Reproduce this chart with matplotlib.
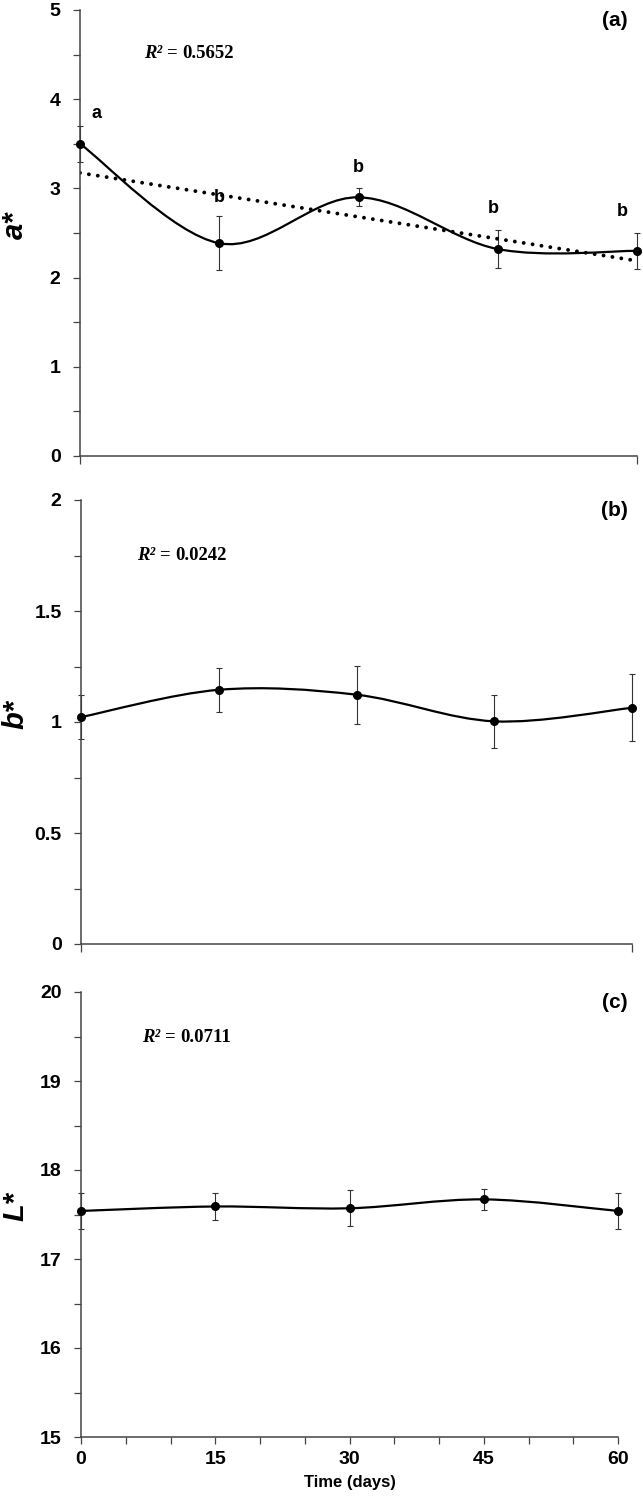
import numpy as np
import matplotlib
matplotlib.use('Agg')
import matplotlib.pyplot as plt
from matplotlib.path import Path
from matplotlib.patches import PathPatch
from matplotlib.ticker import MultipleLocator, FuncFormatter

days = [0, 15, 30, 45, 60]

a_mean = [3.50, 2.385, 2.90, 2.32, 2.30]
a_err = [0.20, 0.30, 0.10, 0.21, 0.20]
a_letters = ['a', 'b', 'b', 'b', 'b']

b_mean = [1.022, 1.145, 1.123, 1.003, 1.064]
b_err = [0.10, 0.10, 0.13, 0.12, 0.15]

L_mean = [17.54, 17.59, 17.57, 17.67, 17.54]
L_err = [0.20, 0.155, 0.20, 0.12, 0.20]

r2_text = ['0.5652', '0.0242', '0.0711']
panel_tags = ['(a)', '(b)', '(c)']
y_titles = ['a*', 'b*', 'L*']

sans = ['Liberation Sans', 'DejaVu Sans']
serif = ['Liberation Serif', 'DejaVu Serif']
axcol = '#444444'


def smooth_line(ax, x, y):
    # excel style smoothed line (bezier segments through the points)
    p = np.column_stack([x, y]).astype(float)
    q = np.vstack([p[0], p, p[-1]])
    verts = [p[0]]
    codes = [Path.MOVETO]
    for i in range(len(p) - 1):
        c1 = q[i + 1] + (q[i + 2] - q[i]) / 6.0
        c2 = q[i + 2] - (q[i + 3] - q[i + 1]) / 6.0
        verts += [c1, c2, q[i + 2]]
        codes += [Path.CURVE4] * 3
    ax.add_patch(PathPatch(Path(verts, codes), fill=False, lw=1.6,
                           edgecolor='black', zorder=3))


fig = plt.figure(figsize=(6.43, 14.97), dpi=100)
W, H = 643.0, 1497.0
# left, right, top, bottom in pixels
boxes = [(80, 637, 10, 456), (81, 632, 500, 944), (81, 618, 992, 1437)]
ylims = [(0, 5), (0, 2), (15, 20)]
ymaj = [1, 0.5, 1]
means = [a_mean, b_mean, L_mean]
errs = [a_err, b_err, L_err]
r2_pos = [(6.9, 4.51), (6.1, 1.75), (6.8, 19.49)]

for k in range(3):
    l, r, t, b = boxes[k]
    ax = fig.add_axes([l / W, (H - b) / H, (r - l) / W, (b - t) / H])
    ax.set_xlim(0, 60)
    ax.set_ylim(*ylims[k])
    for s in ['top', 'right']:
        ax.spines[s].set_visible(False)
    for s in ['left', 'bottom']:
        ax.spines[s].set_color(axcol)
        ax.spines[s].set_linewidth(1.1)
    ax.patch.set_visible(False)

    ax.errorbar(days, means[k], yerr=errs[k], fmt='none', ecolor='#333333',
                elinewidth=0.8, capsize=2.5, capthick=0.8, zorder=2,
                clip_on=False)
    smooth_line(ax, days, means[k])
    ax.plot(days, means[k], 'o', color='black', ms=5.5, zorder=4,
            clip_on=False)

    ax.yaxis.set_major_locator(MultipleLocator(ymaj[k]))
    ax.yaxis.set_minor_locator(MultipleLocator(ymaj[k] / 2))
    ax.yaxis.set_major_formatter(FuncFormatter(lambda v, pos: '%g' % v))
    ax.tick_params(axis='y', which='both', direction='out', length=5,
                   color=axcol, width=0.9)
    ax.tick_params(axis='y', which='major', labelsize=14, pad=9)
    for tl in ax.get_yticklabels():
        tl.set_fontweight('bold')
        tl.set_family(sans)
    if k == 2:
        ax.set_xticks(days)
        ax.set_xticklabels([str(d) for d in days], fontsize=14,
                           fontweight='bold', family=sans)
        ax.xaxis.set_minor_locator(MultipleLocator(5))
        ax.tick_params(axis='x', which='both', direction='out', length=5,
                       color=axcol, width=0.9, pad=5)
        ax.set_xlabel('Time (days)', fontsize=12, fontweight='bold',
                      family=sans, labelpad=5)
    else:
        ax.set_xticks([0, 60])
        ax.set_xticklabels([])
        ax.tick_params(axis='x', direction='out', length=6, color=axcol,
                       width=0.9)

    # axis titles and panel tags in figure pixels
    fig.text(15 / W, 1 - ((t + b) / 2 - 8) / H, y_titles[k], rotation=90,
             ha='center', va='center', fontsize=21, fontweight='bold',
             fontstyle='italic', family=sans)
    fig.text(628 / W, 1 - (t + 10) / H, panel_tags[k], ha='right',
             va='center', fontsize=15, fontweight='bold', family=sans)

    rx, ry = r2_pos[k]
    t1 = ax.text(rx, ry, 'R² = ', ha='left', va='center', fontsize=13.5,
                 fontweight='bold', fontstyle='italic', family=serif)
    ax.annotate(r2_text[k], xy=(1, 0.5), xycoords=t1, ha='left', va='center',
                fontsize=13.5, fontweight='bold', family=serif)

    if k == 0:
        # linear trend of the means
        coef = np.polyfit(days, a_mean, 1)
        ax.plot([0, 60], np.polyval(coef, [0, 60]),
                linestyle=(0, (0.01, 2.3)), color='black', lw=2.8,
                dash_capstyle='round', zorder=2.5)
        offs = [(1.8, 0.345), (0, 0.515), (0, 0.33), (-0.5, 0.46),
                (-1.6, 0.44)]
        for d, m, lt, o in zip(days, a_mean, a_letters, offs):
            ax.text(d + o[0], m + o[1], lt, ha='center', va='center',
                    fontsize=13, fontweight='bold', family=sans)

fig.savefig('out.png', dpi=100)
